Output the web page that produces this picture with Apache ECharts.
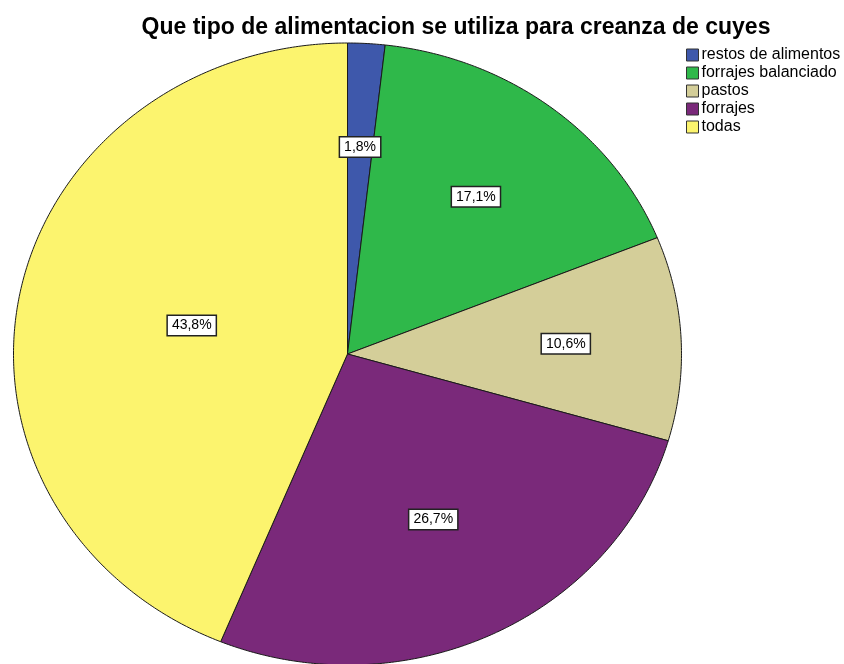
<!DOCTYPE html>
<html><head><meta charset="utf-8">
<script src="https://cdn.jsdelivr.net/npm/echarts@6/dist/echarts.min.js"></script>
<style>html,body{margin:0;padding:0;background:#fff}#c{width:844px;height:664px}</style>
</head><body><div id="c"></div>
<script>
const categories = ['restos de alimentos', 'forrajes balanciado', 'pastos', 'forrajes', 'todas'];
const percentages = [1.8, 17.1, 10.6, 26.7, 43.8];
const colors = ['#3E58AB', '#2FB84A', '#D4CE99', '#7A297A', '#FCF46E'];

const chart = echarts.init(document.getElementById('c'));
const total = percentages.reduce((a, b) => a + b, 0);
const starts = [];
let acc = 0;
percentages.forEach(v => { starts.push(acc); acc += v; });

const CX = 347.5, CY = 354, RX = 334, RY = 311;
function pt(theta, f) {
  return [CX + RX * f * Math.sin(theta), CY - RY * f * Math.cos(theta)];
}
function fmt(v) { return v.toFixed(1).replace('.', ',') + '%'; }

function makeRender(idx) {
  return function (params, api) {
    const v = api.value(0);
    const a0 = starts[idx] / total * Math.PI * 2;
    const a1 = a0 + v / total * Math.PI * 2;
    const pts = [[CX, CY]];
    const steps = Math.max(2, Math.ceil((a1 - a0) / (Math.PI / 360)));
    for (let i = 0; i <= steps; i++) pts.push(pt(a0 + (a1 - a0) * i / steps, 1));
    const alpha = a1 - a0, mid = (a0 + a1) / 2;
    const f = (2 / 3) * Math.sin(alpha / 2) / (alpha / 2);
    const lp = pt(mid, f);
    return {
      type: 'group',
      children: [
        { type: 'polygon', shape: { points: pts },
          style: { fill: api.visual('color'), stroke: '#1a1a1a', lineWidth: 1 } },
        { type: 'text', z2: 100, x: lp[0], y: lp[1],
          style: { text: fmt(v), fill: '#000', font: '14px "Liberation Sans", Arial, sans-serif',
                   lineHeight: 14,
                   align: 'center', verticalAlign: 'middle', backgroundColor: '#fff',
                   borderColor: '#222', borderWidth: 1.5, padding: [3, 4, 2, 4] } }
      ]
    };
  };
}

const series = categories.map((name, i) => ({
  type: 'custom', name: name, coordinateSystem: 'none',
  itemStyle: { color: colors[i], borderColor: '#333', borderWidth: 1 },
  data: [[percentages[i]]],
  renderItem: makeRender(i)
}));

chart.setOption({
  animation: false,
  backgroundColor: '#fff',
  title: {
    text: 'Que tipo de alimentacion se utiliza para creanza de cuyes',
    left: 456, top: 16, textAlign: 'center', padding: 0,
    textStyle: { fontSize: 23, fontWeight: 'bold', color: '#000', fontFamily: '"Liberation Sans", Arial, sans-serif' }
  },
  legend: {
    data: categories, orient: 'vertical', left: 686, top: 47, padding: 0,
    itemWidth: 12, itemHeight: 12, itemGap: 2, icon: 'rect', selectedMode: false,
    itemStyle: { borderColor: '#333', borderWidth: 1 },
    textStyle: { fontSize: 16, lineHeight: 16, color: '#000', fontFamily: '"Liberation Sans", Arial, sans-serif', padding: [0, 0, 0, -2] }
  },
  series: series
});
</script></body></html>
